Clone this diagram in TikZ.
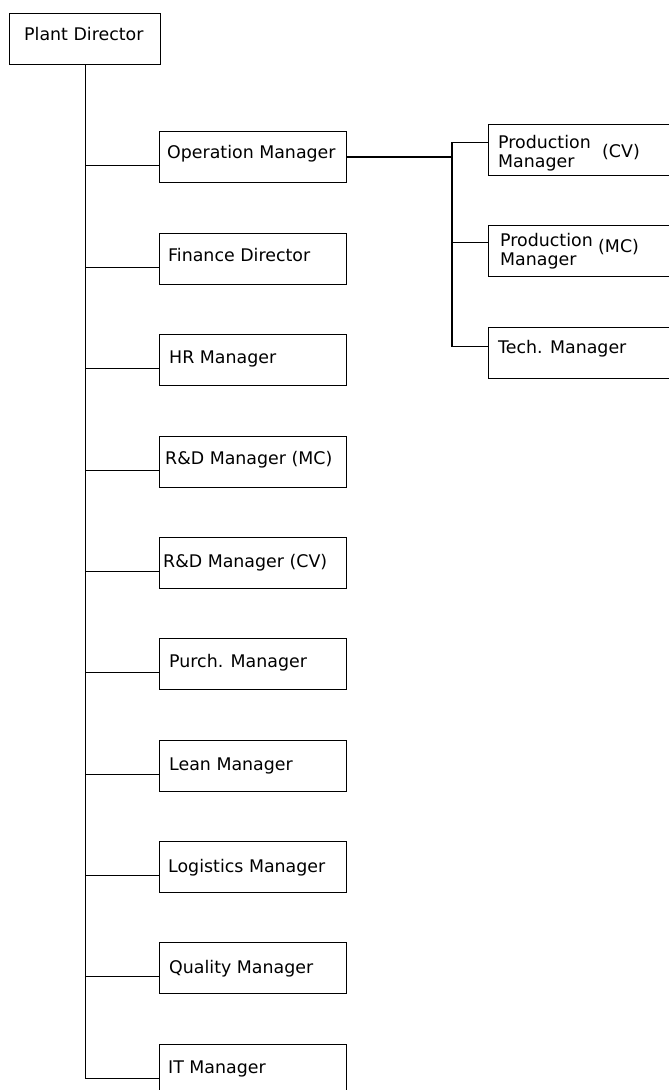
\documentclass[tikz,border=0pt]{standalone}
\usepackage{fontspec}
\setmainfont{DejaVu Sans}
\begin{document}
\begin{tikzpicture}[x=1pt,y=-1pt,
  box/.style={draw=black, line width=1.2pt, inner sep=0pt, anchor=north west, minimum height=51pt},
  lbox/.style={box, minimum width=187pt},
  rbox/.style={box, minimum width=220pt},
  lbl/.style={inner sep=0pt, anchor=base west, font=\fontsize{17.4}{20}\selectfont, text=black},
  conn/.style={draw=black, line width=1.1pt}]
\useasboundingbox (0,0) rectangle (669,1090);
\clip (0,0) rectangle (669,1090);
% boxes
\node[box, minimum width=151pt] (pd) at (9,13) {};
\node[lbox] (om) at (159,131) {};
\node[lbox] (fd) at (159,233) {};
\node[lbox] (hr) at (159,334) {};
\node[lbox] (rdmc) at (159,436) {};
\node[lbox] (rdcv) at (159,537) {};
\node[lbox] (pu) at (159,638) {};
\node[lbox] (le) at (159,740) {};
\node[lbox] (lo) at (159,841) {};
\node[lbox] (qu) at (159,942) {};
\node[lbox] (it) at (159,1044) {};
\node[rbox] (pcv) at (488,124) {};
\node[rbox] (pmc) at (488,225) {};
\node[rbox] (tm) at (488,327) {};
% labels
\node[lbl] (tpd) at ([xshift=15pt,yshift=-27pt]pd.north west) {Plant Director};
\node[lbl] (tom) at ([xshift=8pt,yshift=-27pt]om.north west) {Operation Manager};
\node[lbl] (tfd) at ([xshift=9pt,yshift=-28pt]fd.north west) {Finance Director};
\node[lbl] (thr) at ([xshift=10pt,yshift=-29pt]hr.north west) {HR Manager};
\node[lbl] (trdmc) at ([xshift=6pt,yshift=-28pt]rdmc.north west) {R\&D Manager (MC)};
\node[lbl] (trdcv) at ([xshift=4pt,yshift=-30pt]rdcv.north west) {R\&D Manager (CV)};
\node[lbl] (tpu) at ([xshift=10pt,yshift=-29pt]pu.north west) {Purch. Manager};
\node[lbl] (tle) at ([xshift=10pt,yshift=-30pt]le.north west) {Lean Manager};
\node[lbl] (tlo) at ([xshift=9pt,yshift=-31pt]lo.north west) {Logistics Manager};
\node[lbl] (tqu) at ([xshift=10pt,yshift=-31pt]qu.north west) {Quality Manager};
\node[lbl] (tit) at ([xshift=9pt,yshift=-29pt]it.north west) {IT Manager};
\node[lbl] (tpcv1) at ([xshift=10pt,yshift=-24pt]pcv.north west) {Production};
\node[lbl] (tpcv2) at ([xshift=10pt,yshift=-43pt]pcv.north west) {Manager};
\node[lbl] (tpcv3) at ([xshift=114pt,yshift=-33pt]pcv.north west) {(CV)};
\node[lbl] (tpmc1) at ([xshift=12pt,yshift=-21pt]pmc.north west) {Production};
\node[lbl] (tpmc2) at ([xshift=12pt,yshift=-40pt]pmc.north west) {Manager};
\node[lbl] (tpmc3) at ([xshift=110pt,yshift=-27pt]pmc.north west) {(MC)};
\node[lbl] (ttm) at ([xshift=10pt,yshift=-26pt]tm.north west) {Tech. Manager};
% connectors
\foreach \b in {om,fd,hr,rdmc,rdcv,pu,le,lo,qu,it}
  \draw[conn] (pd.south) |- ([yshift=-8.5pt]\b.west);
\coordinate (j) at (452,157);
\draw[conn] (om.east |- j) -- (j);
\draw[conn] (j) |- ([yshift=7.5pt]pcv.west);
\draw[conn] (j) |- ([yshift=8.5pt]pmc.west);
\draw[conn] (j) |- ([yshift=7pt]tm.west);
\end{tikzpicture}
\end{document}
